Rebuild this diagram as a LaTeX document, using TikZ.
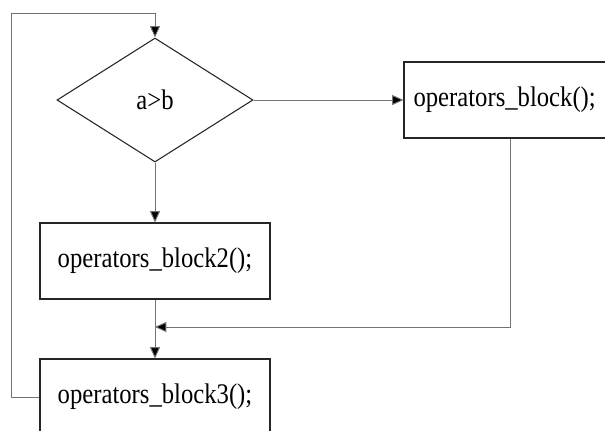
\documentclass[tikz,border=0pt]{standalone}
\usepackage{fontspec}
\setmainfont{Liberation Serif}
\usetikzlibrary{shapes.geometric,arrows.meta}
\begin{document}
\begin{tikzpicture}[x=0.75pt,y=-0.75pt,
  box/.style={draw=black!85,line width=0.8pt,rectangle,minimum height=76*0.75pt,inner sep=0pt,font=\fontsize{18.5pt}{20pt}\selectfont},
  dia/.style={draw=black!85,line width=0.8pt,diamond,inner sep=0pt,minimum width=196*0.75pt,minimum height=124*0.75pt,font=\fontsize{18.5pt}{20pt}\selectfont},
  conn/.style={draw=black!55,line width=0.7pt,-{Triangle[length=8.5pt,width=7.5pt,fill=black]}},
  plain/.style={draw=black!55,line width=0.7pt}]
\useasboundingbox (0,0) rectangle (605,430);
\clip (0,0) rectangle (605,430);
\fill[white] (0,0) rectangle (605,430);
\node[dia] (d) at (155,100) {\scalebox{1}[1.15]{a>b}};
\node[box,minimum width=212*0.75pt] (b1) at (510,100) {\hspace*{-8pt}\scalebox{1}[1.15]{operators\_block();}};
\node[box,minimum width=230*0.75pt] (b2) at (155,261) {\scalebox{1}[1.15]{operators\_block2();}};
\node[box,minimum width=230*0.75pt] (b3) at (155,397) {\scalebox{1}[1.15]{operators\_block3();}};
\coordinate (fbl) at (11,13);
\coordinate (j) at (155,327);
\draw[conn] (d.east) -- (b1.west);
\draw[conn] (d.south) -- (b2.north);
\draw[conn] (b2.south) -- (b3.north);
\draw[conn] (b1.south) |- (j);
\draw[conn] (b3.west) -| (fbl) -| (d.north);
\end{tikzpicture}
\end{document}
